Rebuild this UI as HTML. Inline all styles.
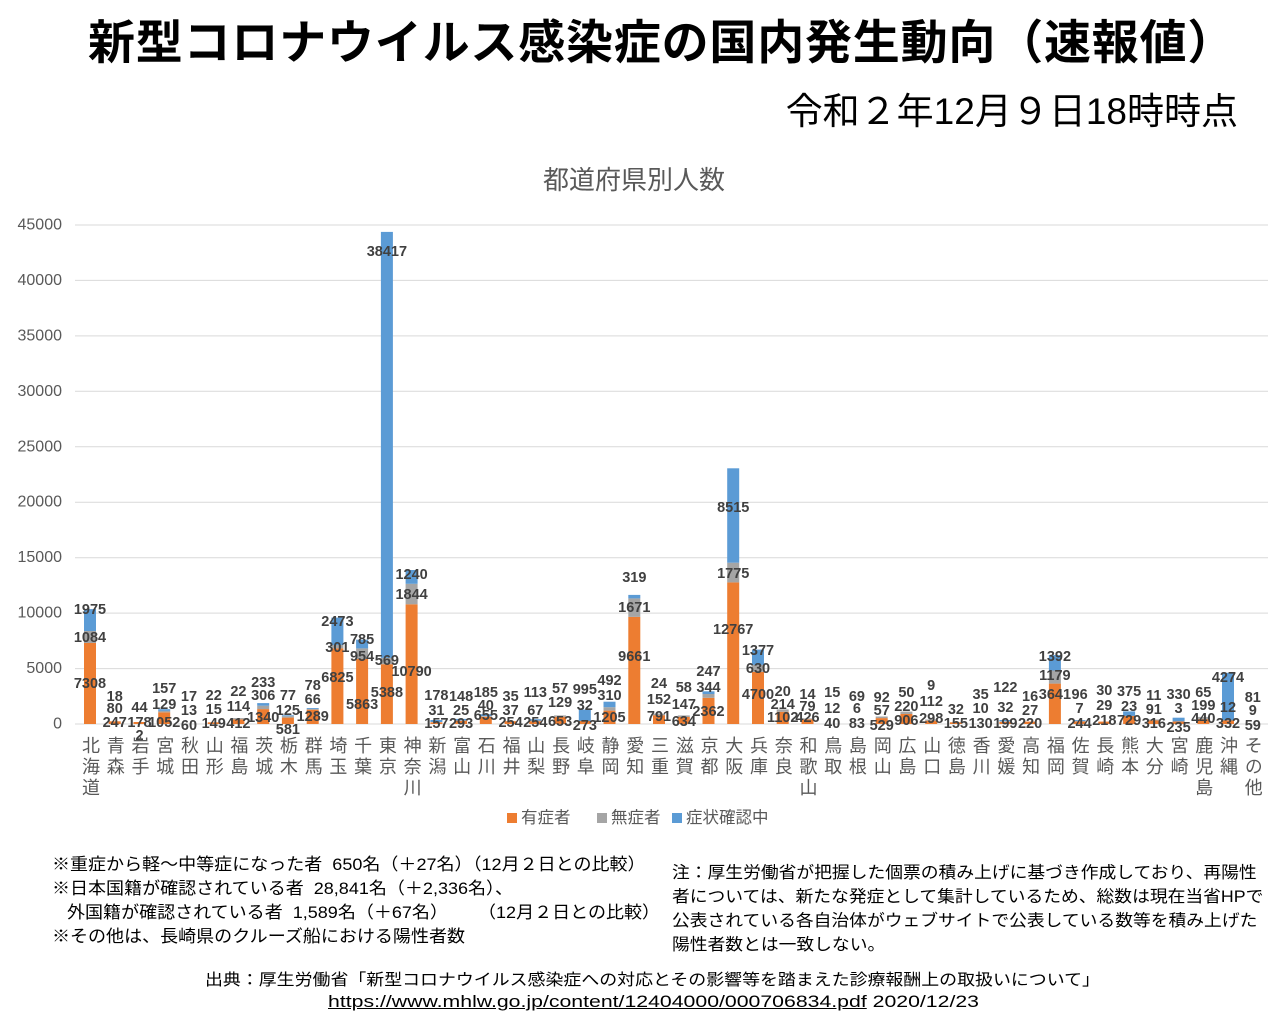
<!DOCTYPE html>
<html><head><meta charset="utf-8"><style>
body{margin:0;width:1280px;height:1020px;background:#fff;position:relative;overflow:hidden;font-family:"Liberation Sans","Noto Sans CJK JP",sans-serif}
.a{position:absolute;white-space:nowrap;transform-origin:0 0}
.xl{position:absolute;top:736px;writing-mode:vertical-rl;font-size:18px;letter-spacing:3px;color:#595959;width:20px;margin-left:-10px;line-height:20px}
</style></head><body>
<div class="a" style="left:88px;top:4px;font-size:47px;font-weight:bold;color:#000;letter-spacing:0.8px">新型コロナウイルス感染症の国内発生動向（速報値）</div>
<div class="a" style="right:42px;top:81px;font-size:37px;color:#000">令和２年12月９日18時時点</div>
<div class="a" style="left:543px;top:160px;font-size:26px;color:#595959">都道府県別人数</div>
<svg width="1280" height="1020" style="position:absolute;left:0;top:0" font-family="Liberation Sans, Noto Sans CJK JP, sans-serif">
<g stroke="#d9d9d9" stroke-width="1">
<line x1="75" x2="1268" y1="724" y2="724"/><line x1="75" x2="1268" y1="668.6" y2="668.6"/><line x1="75" x2="1268" y1="613.1" y2="613.1"/><line x1="75" x2="1268" y1="557.7" y2="557.7"/><line x1="75" x2="1268" y1="502.2" y2="502.2"/><line x1="75" x2="1268" y1="446.8" y2="446.8"/><line x1="75" x2="1268" y1="391.3" y2="391.3"/><line x1="75" x2="1268" y1="335.9" y2="335.9"/><line x1="75" x2="1268" y1="280.4" y2="280.4"/><line x1="75" x2="1268" y1="225" y2="225"/>
</g>
<g font-size="16" fill="#595959" text-anchor="end" dominant-baseline="central">
<text x="62" y="724">0</text><text x="62" y="668.6">5000</text><text x="62" y="613.1">10000</text><text x="62" y="557.7">15000</text><text x="62" y="502.2">20000</text><text x="62" y="446.8">25000</text><text x="62" y="391.3">30000</text><text x="62" y="335.9">35000</text><text x="62" y="280.4">40000</text><text x="62" y="225">45000</text>
</g>
<g>
<g transform="translate(90,0)"><rect x="-6" y="643" width="12" height="81" fill="#ED7D31"/><rect x="-6" y="631" width="12" height="12" fill="#A5A5A5"/><rect x="-6" y="609.1" width="12" height="21.9" fill="#5B9BD5"/></g>
<g transform="translate(114.7,0)"><rect x="-6" y="721.3" width="12" height="2.7" fill="#ED7D31"/></g>
<g transform="translate(139.5,0)"><rect x="-6" y="722" width="12" height="2" fill="#ED7D31"/></g>
<g transform="translate(164.2,0)"><rect x="-6" y="712.3" width="12" height="11.7" fill="#ED7D31"/><rect x="-6" y="710.9" width="12" height="1.4" fill="#A5A5A5"/><rect x="-6" y="709.2" width="12" height="1.7" fill="#5B9BD5"/></g>
<g transform="translate(213.7,0)"><rect x="-6" y="722.3" width="12" height="1.7" fill="#ED7D31"/></g>
<g transform="translate(238.4,0)"><rect x="-6" y="719.4" width="12" height="4.6" fill="#ED7D31"/><rect x="-6" y="718.1" width="12" height="1.3" fill="#A5A5A5"/></g>
<g transform="translate(263.2,0)"><rect x="-6" y="709.1" width="12" height="14.9" fill="#ED7D31"/><rect x="-6" y="705.7" width="12" height="3.4" fill="#A5A5A5"/><rect x="-6" y="703.1" width="12" height="2.6" fill="#5B9BD5"/></g>
<g transform="translate(287.9,0)"><rect x="-6" y="717.6" width="12" height="6.4" fill="#ED7D31"/><rect x="-6" y="716.2" width="12" height="1.4" fill="#A5A5A5"/><rect x="-6" y="715.3" width="12" height="0.9" fill="#5B9BD5"/></g>
<g transform="translate(312.7,0)"><rect x="-6" y="709.7" width="12" height="14.3" fill="#ED7D31"/><rect x="-6" y="709" width="12" height="0.7" fill="#A5A5A5"/><rect x="-6" y="708.1" width="12" height="0.9" fill="#5B9BD5"/></g>
<g transform="translate(337.4,0)"><rect x="-6" y="648.3" width="12" height="75.7" fill="#ED7D31"/><rect x="-6" y="645" width="12" height="3.3" fill="#A5A5A5"/><rect x="-6" y="617.6" width="12" height="27.4" fill="#5B9BD5"/></g>
<g transform="translate(362.1,0)"><rect x="-6" y="659" width="12" height="65" fill="#ED7D31"/><rect x="-6" y="648.4" width="12" height="10.6" fill="#A5A5A5"/><rect x="-6" y="639.7" width="12" height="8.7" fill="#5B9BD5"/></g>
<g transform="translate(386.9,0)"><rect x="-6" y="664.2" width="12" height="59.8" fill="#ED7D31"/><rect x="-6" y="657.9" width="12" height="6.3" fill="#A5A5A5"/><rect x="-6" y="231.9" width="12" height="426" fill="#5B9BD5"/></g>
<g transform="translate(411.6,0)"><rect x="-6" y="604.3" width="12" height="119.7" fill="#ED7D31"/><rect x="-6" y="583.8" width="12" height="20.5" fill="#A5A5A5"/><rect x="-6" y="570" width="12" height="13.8" fill="#5B9BD5"/></g>
<g transform="translate(436.4,0)"><rect x="-6" y="722.3" width="12" height="1.7" fill="#ED7D31"/><rect x="-6" y="720" width="12" height="2" fill="#5B9BD5"/></g>
<g transform="translate(461.1,0)"><rect x="-6" y="720.8" width="12" height="3.2" fill="#ED7D31"/><rect x="-6" y="718.9" width="12" height="1.6" fill="#5B9BD5"/></g>
<g transform="translate(485.8,0)"><rect x="-6" y="716.7" width="12" height="7.3" fill="#ED7D31"/><rect x="-6" y="714.2" width="12" height="2.1" fill="#5B9BD5"/></g>
<g transform="translate(510.6,0)"><rect x="-6" y="721.2" width="12" height="2.8" fill="#ED7D31"/></g>
<g transform="translate(535.3,0)"><rect x="-6" y="721.2" width="12" height="2.8" fill="#ED7D31"/><rect x="-6" y="720.5" width="12" height="0.7" fill="#A5A5A5"/><rect x="-6" y="719.2" width="12" height="1.3" fill="#5B9BD5"/></g>
<g transform="translate(560.1,0)"><rect x="-6" y="716.8" width="12" height="7.2" fill="#ED7D31"/><rect x="-6" y="715.4" width="12" height="1.4" fill="#A5A5A5"/></g>
<g transform="translate(584.8,0)"><rect x="-6" y="721" width="12" height="3" fill="#ED7D31"/><rect x="-6" y="709.6" width="12" height="11.4" fill="#5B9BD5"/></g>
<g transform="translate(609.5,0)"><rect x="-6" y="710.6" width="12" height="13.4" fill="#ED7D31"/><rect x="-6" y="707.2" width="12" height="3.4" fill="#A5A5A5"/><rect x="-6" y="701.7" width="12" height="5.5" fill="#5B9BD5"/></g>
<g transform="translate(634.3,0)"><rect x="-6" y="616.9" width="12" height="107.1" fill="#ED7D31"/><rect x="-6" y="598.4" width="12" height="18.5" fill="#A5A5A5"/><rect x="-6" y="594.9" width="12" height="3.5" fill="#5B9BD5"/></g>
<g transform="translate(659,0)"><rect x="-6" y="715.2" width="12" height="8.8" fill="#ED7D31"/><rect x="-6" y="713.5" width="12" height="1.7" fill="#A5A5A5"/></g>
<g transform="translate(683.8,0)"><rect x="-6" y="717" width="12" height="7" fill="#ED7D31"/><rect x="-6" y="715.4" width="12" height="1.6" fill="#A5A5A5"/></g>
<g transform="translate(708.5,0)"><rect x="-6" y="697.8" width="12" height="26.2" fill="#ED7D31"/><rect x="-6" y="694" width="12" height="3.8" fill="#A5A5A5"/><rect x="-6" y="691.3" width="12" height="2.7" fill="#5B9BD5"/></g>
<g transform="translate(733.2,0)"><rect x="-6" y="582.4" width="12" height="141.6" fill="#ED7D31"/><rect x="-6" y="562.7" width="12" height="19.7" fill="#A5A5A5"/><rect x="-6" y="468.3" width="12" height="94.4" fill="#5B9BD5"/></g>
<g transform="translate(758,0)"><rect x="-6" y="671.9" width="12" height="52.1" fill="#ED7D31"/><rect x="-6" y="664.9" width="12" height="7" fill="#A5A5A5"/><rect x="-6" y="649.6" width="12" height="15.3" fill="#5B9BD5"/></g>
<g transform="translate(782.7,0)"><rect x="-6" y="711.8" width="12" height="12.2" fill="#ED7D31"/><rect x="-6" y="709.4" width="12" height="2.4" fill="#A5A5A5"/></g>
<g transform="translate(807.5,0)"><rect x="-6" y="719.3" width="12" height="4.7" fill="#ED7D31"/><rect x="-6" y="718.4" width="12" height="0.9" fill="#A5A5A5"/></g>
<g transform="translate(881.7,0)"><rect x="-6" y="718.1" width="12" height="5.9" fill="#ED7D31"/><rect x="-6" y="716.5" width="12" height="1.6" fill="#A5A5A5"/></g>
<g transform="translate(906.4,0)"><rect x="-6" y="714" width="12" height="10" fill="#ED7D31"/><rect x="-6" y="711.6" width="12" height="2.4" fill="#A5A5A5"/></g>
<g transform="translate(931.2,0)"><rect x="-6" y="720.7" width="12" height="3.3" fill="#ED7D31"/><rect x="-6" y="719.5" width="12" height="1.2" fill="#A5A5A5"/></g>
<g transform="translate(955.9,0)"><rect x="-6" y="722.3" width="12" height="1.7" fill="#ED7D31"/></g>
<g transform="translate(1005.4,0)"><rect x="-6" y="721.8" width="12" height="2.2" fill="#ED7D31"/><rect x="-6" y="720" width="12" height="1.4" fill="#5B9BD5"/></g>
<g transform="translate(1030.1,0)"><rect x="-6" y="721.6" width="12" height="2.4" fill="#ED7D31"/></g>
<g transform="translate(1054.9,0)"><rect x="-6" y="683.6" width="12" height="40.4" fill="#ED7D31"/><rect x="-6" y="670.5" width="12" height="13.1" fill="#A5A5A5"/><rect x="-6" y="655.1" width="12" height="15.4" fill="#5B9BD5"/></g>
<g transform="translate(1079.6,0)"><rect x="-6" y="721.3" width="12" height="2.7" fill="#ED7D31"/><rect x="-6" y="720.1" width="12" height="1.1" fill="#5B9BD5"/></g>
<g transform="translate(1104.3,0)"><rect x="-6" y="721.6" width="12" height="2.4" fill="#ED7D31"/></g>
<g transform="translate(1129.1,0)"><rect x="-6" y="715.9" width="12" height="8.1" fill="#ED7D31"/><rect x="-6" y="711.4" width="12" height="4.5" fill="#5B9BD5"/></g>
<g transform="translate(1153.8,0)"><rect x="-6" y="720.5" width="12" height="3.5" fill="#ED7D31"/><rect x="-6" y="719.5" width="12" height="1" fill="#A5A5A5"/></g>
<g transform="translate(1178.6,0)"><rect x="-6" y="721.4" width="12" height="2.6" fill="#ED7D31"/><rect x="-6" y="717.7" width="12" height="3.7" fill="#5B9BD5"/></g>
<g transform="translate(1203.3,0)"><rect x="-6" y="719.1" width="12" height="4.9" fill="#ED7D31"/><rect x="-6" y="716.9" width="12" height="2.2" fill="#A5A5A5"/></g>
<g transform="translate(1228,0)"><rect x="-6" y="720.3" width="12" height="3.7" fill="#ED7D31"/><rect x="-6" y="672.8" width="12" height="47.5" fill="#5B9BD5"/></g>
</g>
<g font-size="14.5" font-weight="bold" fill="#404040" text-anchor="middle" dominant-baseline="central">
<text x="90" y="684">7308</text><text x="90" y="638">1084</text><text x="90" y="610">1975</text>
<text x="114.7" y="723">247</text><text x="114.7" y="709">80</text><text x="114.7" y="697">18</text>
<text x="139.5" y="723">178</text><text x="139.5" y="736">2</text><text x="139.5" y="708">44</text>
<text x="164.2" y="723">1052</text><text x="164.2" y="705">129</text><text x="164.2" y="689">157</text>
<text x="189" y="726">60</text><text x="189" y="711">13</text><text x="189" y="697">17</text>
<text x="213.7" y="724">149</text><text x="213.7" y="710">15</text><text x="213.7" y="696">22</text>
<text x="238.4" y="724">412</text><text x="238.4" y="707">114</text><text x="238.4" y="692">22</text>
<text x="263.2" y="718">1340</text><text x="263.2" y="696">306</text><text x="263.2" y="683">233</text>
<text x="287.9" y="730">581</text><text x="287.9" y="711">125</text><text x="287.9" y="696">77</text>
<text x="312.7" y="717">1289</text><text x="312.7" y="700">66</text><text x="312.7" y="686">78</text>
<text x="337.4" y="678">6825</text><text x="337.4" y="648">301</text><text x="337.4" y="622">2473</text>
<text x="362.1" y="705">5863</text><text x="362.1" y="657">954</text><text x="362.1" y="640">785</text>
<text x="386.9" y="693">5388</text><text x="386.9" y="661">569</text><text x="386.9" y="252">38417</text>
<text x="411.6" y="672">10790</text><text x="411.6" y="595">1844</text><text x="411.6" y="575">1240</text>
<text x="436.4" y="724">157</text><text x="436.4" y="711">31</text><text x="436.4" y="696">178</text>
<text x="461.1" y="724">293</text><text x="461.1" y="711">25</text><text x="461.1" y="697">148</text>
<text x="485.8" y="716">655</text><text x="485.8" y="706">40</text><text x="485.8" y="693">185</text>
<text x="510.6" y="723">254</text><text x="510.6" y="711">37</text><text x="510.6" y="697">35</text>
<text x="535.3" y="723">254</text><text x="535.3" y="711">67</text><text x="535.3" y="693">113</text>
<text x="560.1" y="722">653</text><text x="560.1" y="703">129</text><text x="560.1" y="689">57</text>
<text x="584.8" y="726">273</text><text x="584.8" y="706">32</text><text x="584.8" y="690">995</text>
<text x="609.5" y="718">1205</text><text x="609.5" y="696">310</text><text x="609.5" y="681">492</text>
<text x="634.3" y="657">9661</text><text x="634.3" y="608">1671</text><text x="634.3" y="578">319</text>
<text x="659" y="717">791</text><text x="659" y="700">152</text><text x="659" y="684">24</text>
<text x="683.8" y="722">634</text><text x="683.8" y="705">147</text><text x="683.8" y="688">58</text>
<text x="708.5" y="712">2362</text><text x="708.5" y="688">344</text><text x="708.5" y="672">247</text>
<text x="733.2" y="630">12767</text><text x="733.2" y="574">1775</text><text x="733.2" y="508">8515</text>
<text x="758" y="695">4700</text><text x="758" y="669">630</text><text x="758" y="651">1377</text>
<text x="782.7" y="718">1102</text><text x="782.7" y="705">214</text><text x="782.7" y="692">20</text>
<text x="807.5" y="718">426</text><text x="807.5" y="707">79</text><text x="807.5" y="695">14</text>
<text x="832.2" y="724">40</text><text x="832.2" y="709">12</text><text x="832.2" y="693">15</text>
<text x="856.9" y="724">83</text><text x="856.9" y="709">6</text><text x="856.9" y="697">69</text>
<text x="881.7" y="726">529</text><text x="881.7" y="711">57</text><text x="881.7" y="698">92</text>
<text x="906.4" y="721">906</text><text x="906.4" y="707">220</text><text x="906.4" y="693">50</text>
<text x="931.2" y="719">298</text><text x="931.2" y="702">112</text><text x="931.2" y="686">9</text>
<text x="955.9" y="724">155</text><text x="955.9" y="710">32</text>
<text x="980.6" y="724">130</text><text x="980.6" y="709">10</text><text x="980.6" y="695">35</text>
<text x="1005.4" y="724">199</text><text x="1005.4" y="708">32</text><text x="1005.4" y="688">122</text>
<text x="1030.1" y="724">220</text><text x="1030.1" y="711">27</text><text x="1030.1" y="697">16</text>
<text x="1054.9" y="695">3641</text><text x="1054.9" y="676">1179</text><text x="1054.9" y="657">1392</text>
<text x="1079.6" y="724">244</text><text x="1079.6" y="709">7</text><text x="1079.6" y="695">96</text>
<text x="1104.3" y="721">218</text><text x="1104.3" y="706">29</text><text x="1104.3" y="691">30</text>
<text x="1129.1" y="721">729</text><text x="1129.1" y="707">23</text><text x="1129.1" y="692">375</text>
<text x="1153.8" y="724">316</text><text x="1153.8" y="710">91</text><text x="1153.8" y="696">11</text>
<text x="1178.6" y="728">235</text><text x="1178.6" y="709">3</text><text x="1178.6" y="695">330</text>
<text x="1203.3" y="719">440</text><text x="1203.3" y="706">199</text><text x="1203.3" y="693">65</text>
<text x="1228" y="724">332</text><text x="1228" y="708">12</text><text x="1228" y="678">4274</text>
<text x="1252.8" y="726">59</text><text x="1252.8" y="711">9</text><text x="1252.8" y="698">81</text>
</g>
<rect x="507" y="813" width="10" height="10" fill="#ED7D31"/>
<rect x="597" y="813" width="10" height="10" fill="#A5A5A5"/>
<rect x="672" y="813" width="10" height="10" fill="#5B9BD5"/>
<g font-size="16.5" fill="#595959" dominant-baseline="central"><text x="521" y="818">有症者</text><text x="611" y="818">無症者</text><text x="686" y="818">症状確認中</text></g>
</svg>
<div class="xl" style="left:90px">北海道</div><div class="xl" style="left:114.7px">青森</div><div class="xl" style="left:139.5px">岩手</div><div class="xl" style="left:164.2px">宮城</div><div class="xl" style="left:189px">秋田</div><div class="xl" style="left:213.7px">山形</div><div class="xl" style="left:238.4px">福島</div><div class="xl" style="left:263.2px">茨城</div><div class="xl" style="left:287.9px">栃木</div><div class="xl" style="left:312.7px">群馬</div><div class="xl" style="left:337.4px">埼玉</div><div class="xl" style="left:362.1px">千葉</div><div class="xl" style="left:386.9px">東京</div><div class="xl" style="left:411.6px">神奈川</div><div class="xl" style="left:436.4px">新潟</div><div class="xl" style="left:461.1px">富山</div><div class="xl" style="left:485.8px">石川</div><div class="xl" style="left:510.6px">福井</div><div class="xl" style="left:535.3px">山梨</div><div class="xl" style="left:560.1px">長野</div><div class="xl" style="left:584.8px">岐阜</div><div class="xl" style="left:609.5px">静岡</div><div class="xl" style="left:634.3px">愛知</div><div class="xl" style="left:659px">三重</div><div class="xl" style="left:683.8px">滋賀</div><div class="xl" style="left:708.5px">京都</div><div class="xl" style="left:733.2px">大阪</div><div class="xl" style="left:758px">兵庫</div><div class="xl" style="left:782.7px">奈良</div><div class="xl" style="left:807.5px">和歌山</div><div class="xl" style="left:832.2px">鳥取</div><div class="xl" style="left:856.9px">島根</div><div class="xl" style="left:881.7px">岡山</div><div class="xl" style="left:906.4px">広島</div><div class="xl" style="left:931.2px">山口</div><div class="xl" style="left:955.9px">徳島</div><div class="xl" style="left:980.6px">香川</div><div class="xl" style="left:1005.4px">愛媛</div><div class="xl" style="left:1030.1px">高知</div><div class="xl" style="left:1054.9px">福岡</div><div class="xl" style="left:1079.6px">佐賀</div><div class="xl" style="left:1104.3px">長崎</div><div class="xl" style="left:1129.1px">熊本</div><div class="xl" style="left:1153.8px">大分</div><div class="xl" style="left:1178.6px">宮崎</div><div class="xl" style="left:1203.3px">鹿児島</div><div class="xl" style="left:1228px">沖縄</div><div class="xl" style="left:1252.8px">その他</div>
<div class="a" style="left:52px;top:853px;font-size:17px;line-height:24px;color:#000;transform:scaleX(1.06)">※重症から軽～中等症になった者&nbsp; 650名（＋27名）（12月２日との比較）<br>※日本国籍が確認されている者&nbsp; 28,841名（＋2,336名）、<br>&nbsp;&nbsp;&nbsp;外国籍が確認されている者&nbsp; 1,589名（＋67名）&nbsp;&nbsp;&nbsp;&nbsp;&nbsp;&nbsp;（12月２日との比較）<br>※その他は、長崎県のクルーズ船における陽性者数</div>
<div class="a" style="left:672px;top:861px;font-size:16.5px;line-height:24px;color:#000;transform:scaleX(1.077)">注：厚生労働省が把握した個票の積み上げに基づき作成しており、再陽性<br>者については、新たな発症として集計しているため、総数は現在当省HPで<br>公表されている各自治体がウェブサイトで公表している数等を積み上げた<br>陽性者数とは一致しない。</div>
<div class="a" style="left:205px;top:966px;font-size:16px;color:#000;transform:scaleX(1.12)">出典：厚生労働省「新型コロナウイルス感染症への対応とその影響等を踏まえた診療報酬上の取扱いについて」</div>
<div class="a" style="left:328px;top:992px;font-size:17px;color:#000;transform:scaleX(1.25)"><span style="text-decoration:underline">https://www.mhlw.go.jp/content/12404000/000706834.pdf</span> 2020/12/23</div>
</body></html>
